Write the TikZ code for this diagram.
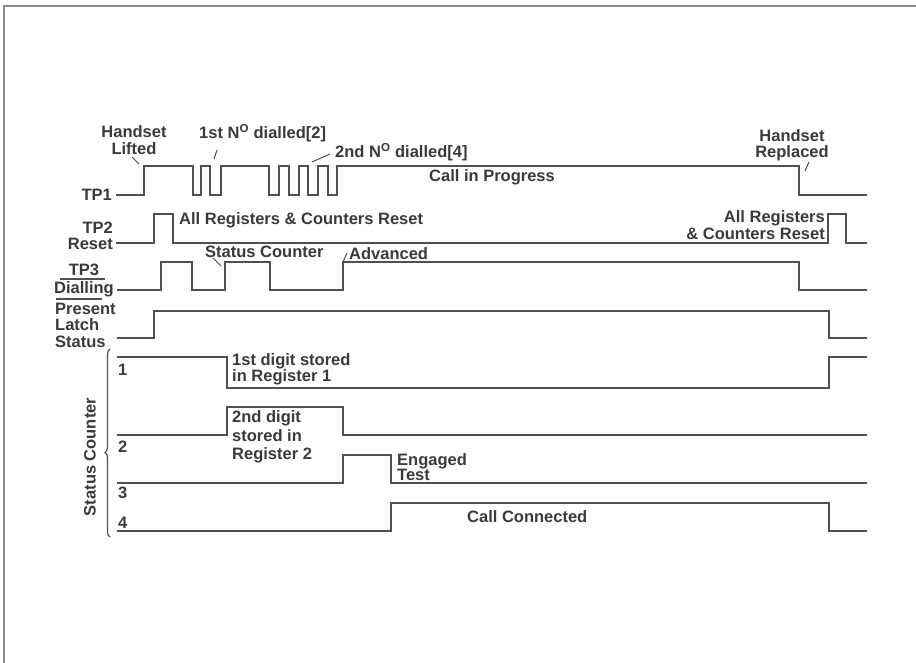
\documentclass[tikz,border=0pt]{standalone}
\usepackage{fontspec}
\setmainfont{Liberation Sans}
\usetikzlibrary{decorations.pathreplacing}
\definecolor{ink}{HTML}{3A3A3A}
\definecolor{wave}{HTML}{505050}
\definecolor{framegray}{HTML}{8A8A8A}
\begin{document}
\begin{tikzpicture}[x=1pt,y=-1pt,
  sig/.style={draw=wave,line width=1.3pt,line join=miter},
  lbl/.style={text=ink,inner sep=0pt,font=\bfseries\fontsize{16.5}{16.5}\selectfont},
  ptr/.style={draw=wave,line width=1pt},
]
\useasboundingbox (0,0) rectangle (916,663);
% frame
\draw[framegray,line width=1.2pt] (3,6) -- (916,6);
\draw[framegray,line width=1.2pt] (4,6) -- (4,663);

% ---------- TP1 ----------
\node[lbl,anchor=east] (tp1) at (112,195) {TP1};
\draw[sig] (116,195) -- (144,195) -- (144,166) -- (193,166) -- (193,195) -- (201,195) -- (201,166)
  -- (210,166) -- (210,195) -- (221,195) -- (221,166) -- (269,166) -- (269,195) -- (279,195)
  -- (279,166) -- (289,166) -- (289,195) -- (299,195) -- (299,166) -- (308,166) -- (308,195)
  -- (318,195) -- (318,166) -- (328,166) -- (328,195) -- (337,195) -- (337,166) -- (799,166)
  -- (799,195) -- (867,195);
\node[lbl,align=center] (lifted) at (134,140) {Handset\\Lifted};
\node[lbl,anchor=west] (first) at (199,133) {1st N\textsuperscript{O} dialled[2]};
\node[lbl,anchor=west] (second) at (335,152) {2nd N\textsuperscript{O} dialled[4]};
\node[lbl,anchor=west] (progress) at (429,177) {Call in Progress};
\node[lbl,align=center] (replaced) at (792,145) {Handset\\Replaced};
\coordinate (p1a) at (132,157); \coordinate (p1b) at (139,164);
\coordinate (p2a) at (217,150); \coordinate (p2b) at (214,159);
\coordinate (p3a) at (312,162); \coordinate (p3b) at (330,154);
\coordinate (p4a) at (809,162); \coordinate (p4b) at (805,171);
\draw[ptr] (p1a) -- (p1b);
\draw[ptr] (p2a) -- (p2b);
\draw[ptr] (p3a) -- (p3b);
\draw[ptr] (p4a) -- (p4b);

% ---------- TP2 ----------
\node[lbl,anchor=east,align=right] (tp2) at (113,236) {TP2\\Reset};
\draw[sig] (116,243) -- (154,243) -- (154,214) -- (173,214) -- (173,243) -- (828,243)
  -- (828,214) -- (846,214) -- (846,243) -- (867,243);
\node[lbl,anchor=west] (reset1) at (179,220) {All Registers \& Counters Reset};
\node[lbl,anchor=east,align=right] (reset2) at (825,225) {All Registers\\\& Counters Reset};

% ---------- TP3 ----------
\node[lbl,anchor=south] (tp3) at (84,276) {TP3};
\node[lbl,anchor=north] (dial) at (84,281) {Dialling};
\draw[wave,line width=1.1pt] (60,279) -- (105,279);
\draw[wave,line width=1.1pt] (56,299) -- (102,299);
\draw[sig] (117,290) -- (161,290) -- (161,262) -- (192,262) -- (192,290) -- (225,290)
  -- (225,262) -- (270,262) -- (270,290) -- (343,290) -- (343,262) -- (799,262)
  -- (799,290) -- (867,290);
\node[lbl,anchor=west] (statc) at (205,252) {Status Counter};
\node[lbl,anchor=west] (adv) at (349,254) {Advanced};
\coordinate (p5a) at (213,258); \coordinate (p5b) at (221,266);
\coordinate (p6a) at (343,262); \coordinate (p6b) at (347,253);
\draw[ptr] (p5a) -- (p5b);
\draw[ptr] (p6a) -- (p6b);

% ---------- Present Latch Status ----------
\node[lbl,anchor=west,align=left] (latch) at (55,325) {Present\\Latch\\Status};
\draw[sig] (117,338) -- (154,338) -- (154,311) -- (829,311) -- (829,338) -- (867,338);

% ---------- Status counter ----------
\draw[wave,line width=1.2pt,decorate,decoration={brace,amplitude=5pt,aspect=0.45}]
  (110,537) -- (110,349);
\node[lbl,rotate=90] (sc) at (90,457) {Status Counter};

\node[lbl,anchor=west] (n1) at (118,370) {1};
\draw[sig] (117,357) -- (227,357) -- (227,388) -- (829,388) -- (829,357) -- (867,357);
\node[lbl,anchor=west,align=left] (d1) at (232,369.5) {1st digit stored\\in Register 1};

\node[lbl,anchor=west] (n2) at (118,447) {2};
\draw[sig] (117,435) -- (227,435) -- (227,407) -- (343,407) -- (343,435) -- (867,435);
\node[lbl,anchor=west,align=left,font=\bfseries\fontsize{16.5}{18.5}\selectfont] (d2) at (232,437) {2nd digit\\stored in\\Register 2};

\node[lbl,anchor=west] (n3) at (118,493) {3};
\draw[sig] (117,483) -- (343,483) -- (343,455) -- (391,455) -- (391,483) -- (867,483);
\node[lbl,anchor=west,align=left,font=\bfseries\fontsize{16.5}{15}\selectfont] (eng) at (397,467.5) {Engaged\\Test};

\node[lbl,anchor=west] (n4) at (118,523) {4};
\draw[sig] (117,531) -- (391,531) -- (391,503) -- (829,503) -- (829,531) -- (867,531);
\node[lbl,anchor=west] (conn) at (467,517) {Call Connected};
\end{tikzpicture}
\end{document}
